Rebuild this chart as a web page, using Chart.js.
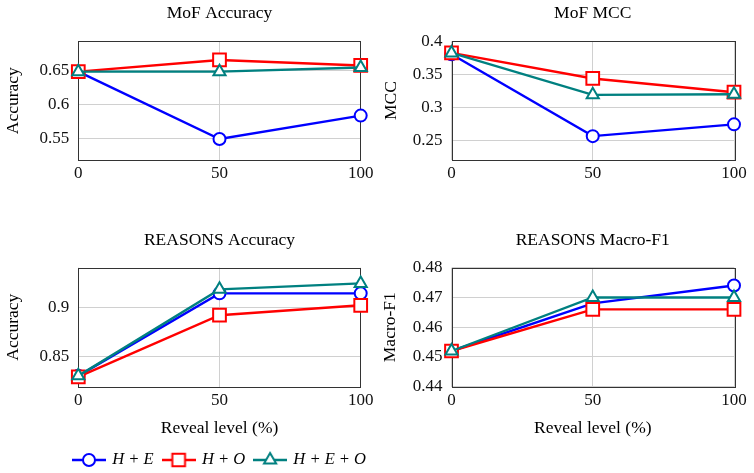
<!DOCTYPE html>
<html>
<head>
<meta charset="utf-8">
<script src="https://cdn.jsdelivr.net/npm/chart.js@4"></script>
<style>
  body { margin: 0; background: #fff; }
  #wrap { position: relative; width: 754px; height: 473px; }
  canvas { position: absolute; }
</style>
</head>
<body>
<div id="wrap">
  <canvas id="mofAcc" width="377" height="200" style="left:0;top:0"></canvas>
  <canvas id="mofMcc" width="377" height="200" style="left:377px;top:0"></canvas>
  <canvas id="reasonsAcc" width="377" height="253" style="left:0;top:220px"></canvas>
  <canvas id="reasonsF1" width="377" height="220" style="left:377px;top:220px"></canvas>
</div>
<script>
// data
const revealLevels = [0, 50, 100];
const seriesNames = ["H + E", "H + O", "H + E + O"];

const mofAccHE = [0.648, 0.550, 0.584];
const mofAccHO = [0.648, 0.665, 0.657];
const mofAccHEO = [0.648, 0.648, 0.654];

const mofMccHE = [0.381, 0.256, 0.274];
const mofMccHO = [0.383, 0.344, 0.323];
const mofMccHEO = [0.383, 0.319, 0.320];

const reasonsAccHE = [0.831, 0.914, 0.914];
const reasonsAccHO = [0.830, 0.892, 0.902];
const reasonsAccHEO = [0.831, 0.918, 0.924];

const reasonsF1HE = [0.452, 0.468, 0.474];
const reasonsF1HO = [0.452, 0.466, 0.466];
const reasonsF1HEO = [0.452, 0.470, 0.470];

const xTicks = [0, 50, 100];
const mofAccTicks = [0.55, 0.6, 0.65];
const mofMccTicks = [0.25, 0.3, 0.35, 0.4];
const reasonsAccTicks = [0.85, 0.9];
const reasonsF1Ticks = [0.44, 0.45, 0.46, 0.47, 0.48];

// look of each series
const looks = [
  { color: "#0000ff", style: "circle", radius: 6 },
  { color: "#ff0000", style: "rect", radius: 9 },
  { color: "#008080", style: "triangle", radius: 7 }
];

Chart.defaults.font.family = "'Liberation Serif', serif";
Chart.defaults.color = "#000";

// box around the plot area, under the lines
const frame = {
  id: "frame",
  beforeDatasetsDraw(chart) {
    const a = chart.chartArea;
    const ctx = chart.ctx;
    ctx.save();
    ctx.strokeStyle = "#333";
    ctx.lineWidth = 1;
    ctx.strokeRect(Math.round(a.left) + 0.5, Math.round(a.top) + 0.5,
      Math.round(a.right - a.left), Math.round(a.bottom - a.top));
    ctx.restore();
  }
};

// move the legend under the left column
const legendSpot = {
  id: "legendSpot",
  afterLayout(chart) {
    const lg = chart.legend;
    if (!lg) return;
    const dx = 64 - lg.left;
    const dy = 5.25;
    lg.left += dx; lg.right += dx;
    lg.top += dy; lg.bottom += dy;
  }
};

function legendGlyph(look) {
  const c = document.createElement("canvas");
  c.width = 34;
  c.height = 20;
  const g = c.getContext("2d");
  g.strokeStyle = look.color;
  g.lineWidth = 2.4;
  g.beginPath();
  g.moveTo(0, 10);
  g.lineTo(34, 10);
  g.stroke();
  g.fillStyle = "#fff";
  g.lineWidth = 2;
  g.beginPath();
  if (look.style === "circle") {
    g.arc(17, 10, look.radius, 0, Math.PI * 2);
  } else if (look.style === "rect") {
    const s = look.radius * Math.SQRT1_2;
    g.rect(17 - s, 10 - s, 2 * s, 2 * s);
  } else {
    const r = look.radius;
    g.moveTo(17, 10 - r);
    g.lineTo(17 + r * 0.866, 10 + r / 2);
    g.lineTo(17 - r * 0.866, 10 + r / 2);
    g.closePath();
  }
  g.fill();
  g.stroke();
  return c;
}

function drawPanel(id, cfg) {
  const series = [cfg.he, cfg.ho, cfg.heo];
  const glyphs = looks.map(legendGlyph);
  new Chart(document.getElementById(id), {
    type: "line",
    data: {
      datasets: series.map((vals, i) => ({
        label: seriesNames[i],
        data: vals.map((v, j) => ({ x: revealLevels[j], y: v })),
        borderColor: looks[i].color,
        borderWidth: 2.4,
        pointStyle: looks[i].style,
        pointRadius: looks[i].radius,
        pointBorderWidth: 2,
        pointBorderColor: looks[i].color,
        pointBackgroundColor: "#fff",
        tension: 0,
        clip: false,
        order: 3 - i
      }))
    },
    options: {
      responsive: false,
      animation: false,
      devicePixelRatio: 1,
      layout: { padding: { left: 0, right: cfg.padRight, top: 0, bottom: 0 } },
      plugins: {
        title: {
          display: true,
          fullSize: false,
          text: cfg.title,
          color: "#000",
          font: { size: 17.5, weight: "normal" },
          padding: cfg.titlePad
        },
        legend: cfg.legend ? {
          display: true,
          position: "bottom",
          align: "start",
          labels: {
            usePointStyle: true,
            pointStyleWidth: 30,
            padding: 10,
            color: "#000",
            font: { size: 16.5, style: "italic" },
            generateLabels: chart => chart.data.datasets.map((ds, i) => ({
              text: ds.label,
              pointStyle: glyphs[i],
              datasetIndex: i,
              lineWidth: 0,
              strokeStyle: "transparent",
              fillStyle: "transparent",
              fontColor: "#000"
            }))
          }
        } : { display: false },
        tooltip: { enabled: false }
      },
      scales: {
        x: {
          type: "linear",
          min: 0,
          max: 100,
          afterBuildTicks: s => { s.ticks = xTicks.map(v => ({ value: v })); },
          afterFit: s => { s.height = cfg.xHeight; s.paddingLeft = 0; s.paddingRight = 0; },
          ticks: { color: "#111", font: { size: 17 }, padding: cfg.xTickPad, callback: v => String(v) },
          grid: { color: "#d0d0d0", drawTicks: false },
          border: { display: false },
          title: {
            display: !!cfg.xTitle,
            text: "Reveal level (%)",
            color: "#000",
            font: { size: 17.5 },
            padding: { top: 0, bottom: cfg.xTitlePad || 0 }
          }
        },
        y: {
          type: "linear",
          min: cfg.yMin,
          max: cfg.yMax,
          afterBuildTicks: s => { s.ticks = cfg.yTicks.map(v => ({ value: v })); },
          afterFit: s => { s.width = cfg.yWidth; s.paddingTop = 0; s.paddingBottom = 0; },
          ticks: { color: "#111", font: { size: 17 }, padding: 9, callback: v => String(v) },
          grid: { color: "#d0d0d0", drawTicks: false },
          border: { display: false },
          title: {
            display: true,
            text: cfg.yTitle,
            color: "#000",
            font: { size: 17.5 },
            padding: { top: cfg.yTitlePad, bottom: 0 }
          }
        }
      }
    },
    plugins: cfg.legend ? [frame, legendSpot] : [frame]
  });
}

drawPanel("mofAcc", {
  title: "MoF Accuracy", yTitle: "Accuracy",
  he: mofAccHE, ho: mofAccHO, heo: mofAccHEO,
  yTicks: mofAccTicks, yMin: 0.5194, yMax: 0.6922,
  yWidth: 78.3, padRight: 16.3, titlePad: { top: 2.8, bottom: 17.5 },
  xHeight: 40, xTickPad: 3.1, yTitlePad: 2.5
});

drawPanel("mofMcc", {
  title: "MoF MCC", yTitle: "MCC",
  he: mofMccHE, ho: mofMccHO, heo: mofMccHEO,
  yTicks: mofMccTicks, yMin: 0.2196, yMax: 0.4007,
  yWidth: 74.5, padRight: 20, titlePad: { top: 2.8, bottom: 17.5 },
  xHeight: 40, xTickPad: 3.1, yTitlePad: 4
});

drawPanel("reasonsAcc", {
  title: "REASONS Accuracy", yTitle: "Accuracy",
  he: reasonsAccHE, ho: reasonsAccHO, heo: reasonsAccHEO,
  yTicks: reasonsAccTicks, yMin: 0.8201, yMax: 0.9398,
  yWidth: 78.3, padRight: 16.3, titlePad: { top: 10, bottom: 16.7 },
  xHeight: 49.8, xTickPad: 4.1, xTitle: true, xTitlePad: -2, yTitlePad: 2.5,
  legend: true
});

drawPanel("reasonsF1", {
  title: "REASONS Macro-F1", yTitle: "Macro-F1",
  he: reasonsF1HE, ho: reasonsF1HO, heo: reasonsF1HEO,
  yTicks: reasonsF1Ticks, yMin: 0.44, yMax: 0.48,
  yWidth: 74.5, padRight: 20, titlePad: { top: 10, bottom: 16.7 },
  xHeight: 53.3, xTickPad: 4.1, xTitle: true, xTitlePad: 1.5, yTitlePad: 3
});
</script>
</body>
</html>
